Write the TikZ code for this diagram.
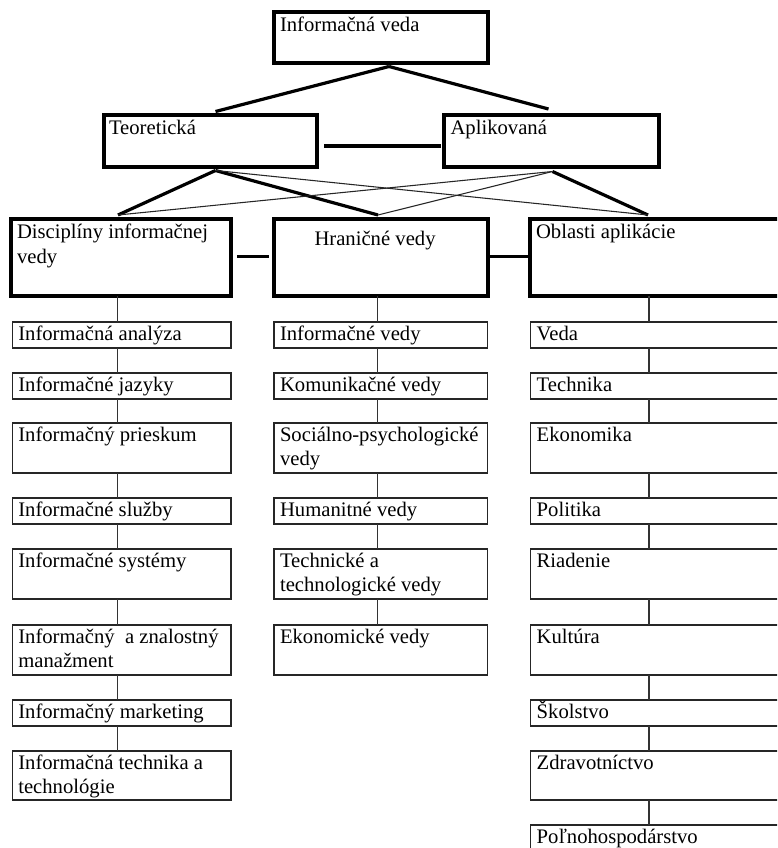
\documentclass[tikz,border=0pt]{standalone}
\usepackage{fontspec}
\setmainfont{Liberation Serif}
\newcommand\twol[2]{\vtop{\hbox{#1}\hbox{#2}}}
\begin{document}
\begin{tikzpicture}[x=0.75pt,y=-0.75pt,
  bigbox/.style={draw=black,line width=2.4pt,inner sep=0pt,outer sep=0pt,rectangle},
  smallbox/.style={draw=black!85,line width=1pt,inner sep=0pt,outer sep=0pt,rectangle},
  txt/.style={inner sep=0pt,outer sep=0pt,font=\fontsize{15.5}{18}\selectfont,anchor=base west},
  thickline/.style={line width=2.4pt,black},
  thinline/.style={line width=0.8pt,black!85},
  vline/.style={line width=0.9pt,black!80}]
\useasboundingbox (0,0) rectangle (777,848);
\clip (0,0) rectangle (777,848);
\fill[white] (0,0) rectangle (777,848);
% box macro: style, name, x1, y1, x2, y2, text, text dx, text dy
\newcommand\kbox[9]{%
  \node[#1,anchor=north west,minimum width={(#5-#3)*0.75pt},minimum height={(#6-#4)*0.75pt}] (#2) at (#3,#4) {};
  \node[txt] (#2t) at ([shift={(#8,#9)}]#2.north west) {#7};}
% top levels
\kbox{bigbox}{top}{274}{12}{488}{63}{Informačná veda}{6}{20}
\kbox{bigbox}{teo}{104}{115}{317}{167}{Teoretická}{5}{20}
\kbox{bigbox}{apl}{444}{115}{659}{167}{Aplikovaná}{6.5}{20}
\kbox{bigbox}{dis}{11}{219}{231}{296}{\twol{Disciplíny informačnej}{vedy}}{6}{20}
\kbox{bigbox}{hra}{274}{219}{488}{296}{Hraničné vedy}{40.5}{26.5}
\kbox{bigbox}{obl}{530}{219}{800}{296}{Oblasti aplikácie}{6}{20}
% connection points
\coordinate (topS) at ([shift={(8,3.5)}]top.south);
\coordinate (teoN) at ([shift={(5,-3.5)}]teo.north);
\coordinate (aplN) at ([shift={(-3,-6)}]apl.north);
\coordinate (teoS) at ([shift={(5,3.5)}]teo.south);
\coordinate (aplS) at ([shift={(1,4.5)}]apl.south);
\coordinate (disN) at ([shift={(-3,-4)}]dis.north);
\coordinate (hraN) at ([shift={(-3,-4)}]hra.north);
\coordinate (oblN) at (648,215);
\draw[thickline] (topS) -- (teoN);
\draw[thickline] (topS) -- (aplN);
\draw[thickline] ([shift={(7,5)}]teo.east) -- ([shift={(-3,5)}]apl.west);
\draw[thickline] (teoS) -- (disN);
\draw[thickline] (teoS) -- (hraN);
\draw[thickline] (aplS) -- (oblN);
\draw[thinline] (teoS) -- (oblN);
\draw[thinline] (aplS) -- (disN);
\draw[thinline] (aplS) -- (hraN);
\draw[thickline] ([shift={(6,-1)}]dis.east) -- ([shift={(-5,-1)}]hra.west);
\draw[thickline] ([shift={(2,-1)}]hra.east) -- ([shift={(-2,-1)}]obl.west);
% column lines
\coordinate (cL) at (117.5,0);
\coordinate (cM) at (377.5,0);
\coordinate (cR) at (649,0);
% left column
\kbox{smallbox}{l1}{12.3}{322}{231}{348}{Informačná analýza}{6}{18.4}
\kbox{smallbox}{l2}{12.3}{373}{231}{399}{Informačné jazyky}{6}{18.4}
\kbox{smallbox}{l3}{12.3}{423}{231}{473}{Informačný prieskum}{6}{18.4}
\kbox{smallbox}{l4}{12.3}{498}{231}{524}{Informačné služby}{6}{18.4}
\kbox{smallbox}{l5}{12.3}{549}{231}{599}{Informačné systémy}{6}{18.4}
\kbox{smallbox}{l6}{12.3}{625}{231}{675}{\twol{Informačný\ \ a znalostný}{manažment}}{6}{18.4}
\kbox{smallbox}{l7}{12.3}{700}{231}{726}{Informačný marketing}{6}{18.4}
\kbox{smallbox}{l8}{12.3}{751}{231}{800}{\twol{Informačná technika a}{technológie}}{6}{18.4}
% middle column
\kbox{smallbox}{m1}{274}{322}{487.3}{348}{Informačné vedy}{6}{18.4}
\kbox{smallbox}{m2}{274}{373}{487.3}{399}{Komunikačné vedy}{6}{18.4}
\kbox{smallbox}{m3}{274}{423}{487.3}{473}{\twol{Sociálno-psychologické}{vedy}}{6}{18.4}
\kbox{smallbox}{m4}{274}{498}{487.3}{524}{Humanitné vedy}{6}{18.4}
\kbox{smallbox}{m5}{274}{549}{487.3}{599}{\twol{Technické a}{technologické vedy}}{6}{18.4}
\kbox{smallbox}{m6}{274}{625}{487.3}{675}{Ekonomické vedy}{6}{18.4}
% right column
\kbox{smallbox}{r1}{530.7}{322}{800}{348}{Veda}{6}{18.4}
\kbox{smallbox}{r2}{530.7}{373}{800}{399}{Technika}{6}{18.4}
\kbox{smallbox}{r3}{530.7}{423}{800}{473}{Ekonomika}{6}{18.4}
\kbox{smallbox}{r4}{530.7}{498}{800}{524}{Politika}{6}{18.4}
\kbox{smallbox}{r5}{530.7}{549}{800}{599}{Riadenie}{6}{18.4}
\kbox{smallbox}{r6}{530.7}{625}{800}{675}{Kultúra}{6}{18.4}
\kbox{smallbox}{r7}{530.7}{700}{800}{726}{Školstvo}{6}{18.4}
\kbox{smallbox}{r8}{530.7}{751}{800}{800}{Zdravotníctvo}{6}{18.4}
\kbox{smallbox}{r9}{530.7}{825}{800}{880}{Poľnohospodárstvo}{6}{18.4}
% vertical connectors
\draw[vline] (cL |- dis.south) -- (cL |- l1.north);
\foreach \a/\b in {l1/l2,l2/l3,l3/l4,l4/l5,l5/l6,l6/l7,l7/l8}
  \draw[vline] (cL |- \a.south) -- (cL |- \b.north);
\draw[vline] (cM |- hra.south) -- (cM |- m1.north);
\foreach \a/\b in {m1/m2,m2/m3,m3/m4,m4/m5,m5/m6}
  \draw[vline] (cM |- \a.south) -- (cM |- \b.north);
\draw[vline] (cR |- obl.south) -- (cR |- r1.north);
\foreach \a/\b in {r1/r2,r2/r3,r3/r4,r4/r5,r5/r6,r6/r7,r7/r8,r8/r9}
  \draw[vline] (cR |- \a.south) -- (cR |- \b.north);
\end{tikzpicture}
\end{document}
